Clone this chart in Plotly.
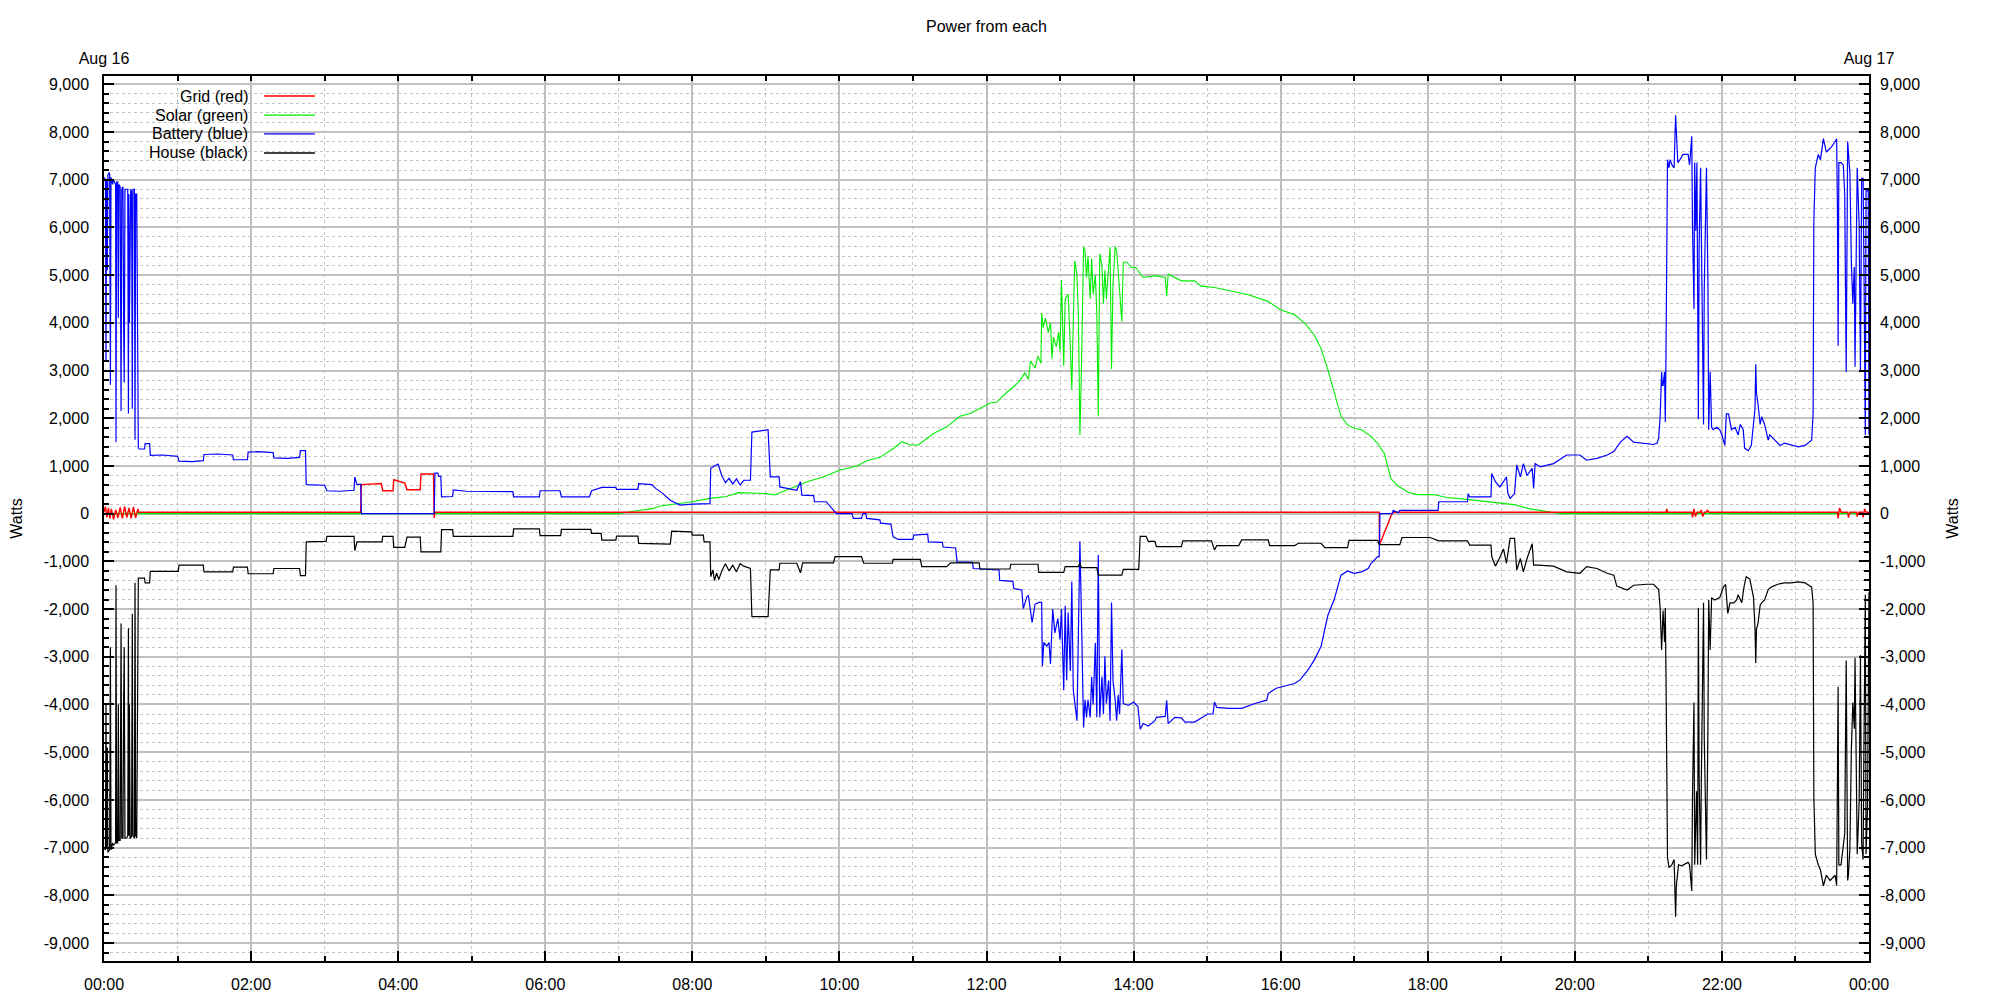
import pandas as pd
import plotly.graph_objects as go

DAY = "2023-08-16"
TITLE = "Power from each"
SERIES_NAMES = ["Grid (red)", "Solar (green)", "Battery (blue)", "House (black)"]
SERIES_COLORS = ["#ff0000", "#00ee00", "#0000ff", "#000000"]
SERIES_WIDTHS = [1.4, 1.1, 1.2, 1.2]
DRAW_ORDER = [1, 0, 2, 3]
Y_TICKS = list(range(-9000, 9001, 1000))
Y_LABELS = [f"{v:,}" for v in Y_TICKS]
TOP_LABELS = ["Aug 16", "Aug 17"]

# ---- Grid (red): hours since midnight, watts
grid_h = [0.0, 0.02, 0.04, 0.06, 0.08, 0.10, 0.13, 0.16, 0.19, 0.22, 0.25, 0.28, 0.31, 0.34,
          0.37, 0.40, 0.43, 0.46, 0.47, 3.49, 3.50, 3.77, 3.79, 3.93, 3.94, 4.09, 4.12, 4.30,
          4.31, 4.48, 4.49, 4.50, 17.34, 17.345, 17.52, 21.24, 21.25, 21.26, 21.59, 21.60,
          21.62, 21.64, 21.66, 21.71, 21.72, 21.74, 21.76, 21.79, 21.80, 21.82, 23.57, 23.58,
          23.60, 23.62, 23.71, 23.72, 23.74, 23.83, 23.84, 23.86, 23.91, 23.92, 23.94, 23.96,
          24.0]
grid_w = [30, 150, -80, 120, -100, 100, -120, 80, -90, 130, -100, 150, -80, 120,
          -100, 140, -90, 100, 30, 30, 610, 630, 480, 480, 710, 640, 500, 500,
          830, 830, -90, 30, 30, -650, 30, 30, 100, 30, 30, -80,
          100, -60, 30, 30, 80, -60, 30, 30, 80, 30, 30, -100,
          120, 30, 30, -80, 30, 30, -60, 30, 30, -80, 100, 30,
          30]

# ---- Solar (green)
solar_h = [0.0, 7.0, 7.2, 7.47, 7.56, 7.79, 8.0, 8.24, 8.46, 8.63, 9.01, 9.12, 9.33, 9.56,
           9.78, 10.0, 10.24, 10.37, 10.55, 10.73, 10.85, 10.96, 11.07, 11.28, 11.46, 11.64,
           11.78, 11.91, 12.05, 12.14, 12.28, 12.37, 12.46, 12.52, 12.57, 12.60, 12.66, 12.70,
           12.74, 12.75, 12.77, 12.80, 12.84, 12.87, 12.89, 12.91, 12.95, 12.98, 13.00, 13.02,
           13.05, 13.07, 13.11, 13.14, 13.16, 13.18, 13.20, 13.23, 13.25, 13.27, 13.29, 13.32,
           13.34, 13.36, 13.38, 13.41, 13.43, 13.45, 13.48, 13.50, 13.52, 13.54, 13.57, 13.59,
           13.61, 13.63, 13.66, 13.68, 13.70, 13.72, 13.75, 13.77, 13.79, 13.84, 13.86, 13.91,
           13.97, 14.03, 14.13, 14.29, 14.43, 14.45, 14.47, 14.65, 14.83, 14.92, 15.10, 15.29,
           15.56, 15.83, 15.99, 16.19, 16.33, 16.46, 16.55, 16.64, 16.73, 16.82, 16.91, 17.0,
           17.10, 17.23, 17.32, 17.41, 17.50, 17.59, 17.73, 17.86, 18.08, 18.26, 18.53, 18.85,
           19.17, 19.39, 19.62, 19.80, 24.0]
solar_w = [0, 0, 50, 110, 160, 200, 250, 320, 360, 440, 420, 390, 530, 670,
           770, 910, 1000, 1110, 1180, 1360, 1510, 1440, 1440, 1680, 1820, 2040,
           2100, 2200, 2320, 2340, 2550, 2660, 2800, 2950, 2820, 3200, 3050, 3300,
           3150, 4200, 3900, 4100, 3800, 4000, 3250, 3700, 3500, 3800, 3400, 4900,
           3100, 4500, 4600, 3500, 2600, 4000, 5300, 5000, 4100, 1650, 2960, 5590,
           5500, 4950, 5400, 4500, 5350, 4600, 5000, 4200, 2040, 5450, 5200, 4400,
           5100, 4500, 5300, 5590, 3030, 4800, 5600, 5500, 5100, 4030, 5270, 5270,
           5160, 5160, 4950, 4990, 4950, 4560, 5020, 4880, 4880, 4770, 4740, 4680,
           4590, 4450, 4280, 4170, 3990, 3740, 3460, 3030, 2540, 2040, 1860, 1790,
           1760, 1620, 1470, 1260, 730, 590, 450, 400, 400, 340, 300, 250,
           190, 100, 50, 0, 0]

# ---- Battery (blue)
battery_h = [0.000, 0.020, 0.027, 0.035, 0.045, 0.053, 0.072, 0.077, 0.087, 0.095, 0.117, 0.127,
             0.158, 0.163, 0.172, 0.187, 0.195, 0.203, 0.220, 0.232, 0.242, 0.258, 0.267, 0.275,
             0.285, 0.308, 0.323, 0.332, 0.338, 0.345, 0.355, 0.363, 0.375, 0.385, 0.393, 0.413,
             0.422, 0.430, 0.445, 0.453, 0.460, 0.467,
             0.48, 0.55, 0.56, 0.62, 0.63, 0.80, 1.0, 1.02, 1.2, 1.35, 1.36, 1.55, 1.75, 1.76,
             1.95, 1.96, 2.1, 2.3, 2.31, 2.5, 2.66, 2.67, 2.74, 2.75, 3.0, 3.03, 3.2, 3.40, 3.41,
             3.44, 3.49, 3.50, 4.49, 4.50, 4.54, 4.55, 4.58, 4.59, 4.74, 4.75, 4.93, 5.3, 5.56,
             5.57, 5.92, 5.93, 6.2, 6.22, 6.6, 6.63, 6.77, 6.96, 6.97, 7.26, 7.27, 7.45, 7.5,
             7.6, 7.7, 7.83, 8.0, 8.24, 8.25, 8.3, 8.35, 8.40, 8.45, 8.5, 8.55, 8.6, 8.65, 8.7,
             8.79, 8.81, 8.9, 9.03, 9.06, 9.18, 9.19, 9.42, 9.47, 9.49, 9.65, 9.66, 9.82, 9.9,
             9.96, 10.17, 10.19, 10.30, 10.32, 10.36, 10.37, 10.55, 10.56, 10.7, 10.73, 10.8,
             11.0, 11.01, 11.2, 11.21, 11.40, 11.41, 11.58, 11.6, 11.81, 11.82, 12.0, 12.17,
             12.18, 12.36, 12.37, 12.48, 12.5, 12.55, 12.57,
             12.59, 12.62, 12.66, 12.71, 12.75, 12.76, 12.78, 12.82, 12.85, 12.87, 12.90, 12.93,
             12.97, 13.00, 13.02, 13.05, 13.07, 13.09, 13.11, 13.14, 13.16, 13.18, 13.23, 13.25,
             13.27, 13.29, 13.32, 13.34, 13.36, 13.38, 13.41, 13.43, 13.45, 13.48, 13.50, 13.52,
             13.54, 13.57, 13.59, 13.61, 13.63, 13.66, 13.68, 13.70, 13.72, 13.75, 13.77, 13.79,
             13.81, 13.84, 13.86, 13.93, 14.00, 14.06, 14.09, 14.13, 14.20, 14.29, 14.31, 14.43,
             14.45, 14.47, 14.56, 14.65, 14.70, 14.83, 14.92, 15.01, 15.08, 15.10, 15.13, 15.29,
             15.47, 15.65, 15.81, 15.83, 15.94, 16.10, 16.19, 16.26, 16.37, 16.46, 16.55, 16.64,
             16.73, 16.82, 16.91, 17.00, 17.10, 17.19, 17.23, 17.32, 17.34, 17.35,
             17.52, 17.53, 17.60, 17.62, 17.9, 18.14, 18.15, 18.54, 18.55, 18.57, 18.86, 18.87,
             18.92, 18.98, 19.03, 19.07, 19.09, 19.12, 19.18, 19.21, 19.26, 19.30, 19.35, 19.42,
             19.44, 19.46, 19.53, 19.71, 19.89, 20.07, 20.16, 20.30, 20.44, 20.53, 20.62, 20.71,
             20.80, 20.98, 21.07, 21.12,
             21.14, 21.16, 21.18, 21.19, 21.20, 21.22, 21.23, 21.24, 21.25, 21.26, 21.28, 21.295,
             21.32, 21.35, 21.37, 21.38, 21.40, 21.43, 21.47, 21.54, 21.56, 21.59, 21.60, 21.62,
             21.63, 21.645, 21.66, 21.68, 21.69, 21.71, 21.72, 21.75, 21.76, 21.78, 21.79, 21.81,
             21.82, 21.84, 21.86, 21.88, 21.93, 21.97, 22.00, 22.04, 22.06, 22.09, 22.13, 22.18,
             22.22, 22.25, 22.29, 22.31, 22.36, 22.40, 22.43, 22.45, 22.46, 22.47, 22.49, 22.52,
             22.54, 22.58, 22.63, 22.65, 22.72, 22.79, 22.85, 22.95, 23.04, 23.13, 23.22, 23.24,
             23.25, 23.27, 23.31, 23.34, 23.38, 23.42, 23.49, 23.54, 23.56, 23.57, 23.58, 23.59,
             23.62, 23.65, 23.67, 23.69, 23.71, 23.72, 23.74, 23.76, 23.78, 23.80, 23.81, 23.83,
             23.84, 23.866, 23.884, 23.90, 23.92, 23.93, 23.95, 23.96, 23.98, 23.99, 24.0]
battery_w = [7050, 7000, 3200, 7000, 5100, 7100, 7150, 7100, 2700, 7050, 6900, 7000,
             6900, 1500, 6950, 6950, 4100, 6900, 6850, 2150, 6800, 6850, 4000, 2750,
             6800, 6800, 6800, 2100, 6700, 4000, 6800, 6800, 6750, 2200, 6800, 6800,
             1550, 6700, 6700, 4000, 1550, 1380,
             1355, 1355, 1470, 1470, 1220, 1230, 1200, 1100, 1090, 1110, 1240, 1250, 1230, 1130,
             1130, 1290, 1300, 1280, 1170, 1160, 1180, 1320, 1320, 610, 595, 480, 470, 490, 770,
             610, 620, 0, 0, 850, 850, 780, 780, 350, 360, 500, 470, 470, 460,
             350, 350, 480, 480, 350, 350, 480, 550, 550, 510, 510, 630, 610, 530,
             420, 280, 180, 200, 210, 950, 1000, 1040, 800, 650, 740, 620, 730, 600, 700,
             700, 1710, 1730, 1760, 770, 770, 560, 490, 670, 390, 380, 250, 250, 100,
             0, 0, -100, -100, 0, 0, -100, -130, -200, -220, -485, -540,
             -540, -450, -430, -590, -600, -700, -720, -1010, -1020, -1150, -1160, -1180,
             -1400, -1420, -1570, -1600, -1990, -1740, -1720,
             -2000, -2280, -1900, -1860, -1860, -3200, -2700, -2780, -2700, -3150, -2000, -2500,
             -2200, -2640, -2000, -3700, -1930, -3490, -2070, -3300, -1430, -3700, -4340, -2500,
             -580, -2070, -4480, -3900, -4270, -3900, -4270, -3420, -4000, -2710, -4270, -865,
             -4270, -3420, -4200, -2990, -3980, -3500, -4340, -1860, -3500, -3910, -4340, -3800,
             -4200, -2850, -3980, -4020, -3950, -4050, -4520, -4400, -4450, -4340, -4270, -4250,
             -3910, -4400, -4270, -4280, -4370, -4370, -4290, -4200, -4200, -3950, -4060, -4080,
             -4080, -3980, -3910, -3770, -3660, -3590, -3560, -3490, -3280, -3060, -2780, -2140,
             -1790, -1290, -1200, -1250, -1220, -1150, -1040, -900, -900, 0,
             0, 70, 20, 70, 70, 70, 250, 250, 420, 350, 350, 840,
             670, 560, 670, 770, 420, 320, 420, 1020, 770, 1050, 800, 950,
             530, 1050, 980, 1050, 1230, 1230, 1120, 1160, 1230, 1300, 1500, 1620,
             1500, 1470, 1450, 1480,
             1590, 2030, 2970, 2690, 2690, 2970, 1920, 3400, 6150, 7420, 7250, 7420,
             7310, 7250, 8350, 7970, 7360, 7420, 7530, 7530, 7310, 7910, 6040, 4290,
             7360, 5930, 7360, 1980, 5600, 7250, 5710, 1870, 4730, 6040, 7250, 4840,
             1760, 2970, 1810, 1760, 1810, 1760, 1650, 1430, 2090, 2090, 1760, 1810,
             1650, 1870, 1760, 1370, 1320, 1430, 1870, 2200, 3130, 2530, 2310, 1870,
             2030, 1870, 1540, 1650, 1540, 1430, 1480, 1430, 1400, 1430, 1540, 2090,
             6150, 7250, 7530, 7420, 7860, 7580, 7690, 7800, 7860, 6480, 3520, 7360,
             7360, 7310, 6700, 2970, 7800, 7580, 7140, 5280, 4400, 5170, 3080, 6000,
             7250, 6040, 2970, 7030, 7030, 5390, 1650, 6810, 6760, 6800, 1650]

# ---- House (black)
house_h = [0.000, 0.020, 0.027, 0.035, 0.045, 0.053, 0.072, 0.077, 0.087, 0.095, 0.117, 0.127,
           0.158, 0.163, 0.172, 0.187, 0.195, 0.203, 0.220, 0.232, 0.242, 0.258, 0.267, 0.275,
           0.285, 0.308, 0.323, 0.332, 0.338, 0.345, 0.355, 0.363, 0.375, 0.385, 0.393, 0.413,
           0.422, 0.430, 0.445, 0.453, 0.460, 0.467,
           0.55, 0.56, 0.62, 0.63, 1.01, 1.02, 1.35, 1.36, 1.75, 1.76, 1.95, 1.96, 2.30, 2.31,
           2.66, 2.67, 2.74, 2.75, 3.02, 3.03, 3.40, 3.41, 3.44, 3.78, 3.79, 3.93, 3.94, 4.09,
           4.12, 4.30, 4.31, 4.58, 4.59, 4.74, 4.75, 5.56, 5.57, 5.92, 5.93, 6.21, 6.22, 6.62,
           6.63, 6.76, 6.77, 6.96, 6.97, 7.26, 7.27, 7.70, 7.72, 7.99, 8.0, 8.15, 8.16, 8.24,
           8.25, 8.28, 8.30, 8.33, 8.36, 8.40, 8.45, 8.5, 8.55, 8.6, 8.65, 8.7, 8.79, 8.81,
           9.03, 9.06, 9.18, 9.19, 9.42, 9.47, 9.50, 9.92, 9.94, 10.30, 10.33, 10.72, 10.73,
           11.10, 11.12, 11.46, 11.51, 11.90, 11.91, 12.32, 12.33, 12.70, 12.71, 13.05, 13.07,
           13.25, 13.27, 13.29, 13.50, 13.52, 13.84, 13.86, 14.07, 14.09, 14.17, 14.20, 14.29,
           14.31, 14.65, 14.67, 15.06, 15.10, 15.13, 15.43, 15.47, 15.83, 15.85, 16.19, 16.24,
           16.55, 16.60, 16.91, 16.93, 17.32, 17.34, 17.62, 17.65, 18.03, 18.15, 18.54, 18.57,
           18.86, 18.87, 18.92, 18.98, 19.03, 19.07, 19.12, 19.18, 19.21, 19.26, 19.30, 19.35,
           19.42, 19.44, 19.50, 19.71, 19.89, 20.07, 20.16, 20.30, 20.44, 20.53, 20.57, 20.71,
           20.80, 20.98, 21.07,
           21.14, 21.16, 21.18, 21.20, 21.22, 21.23, 21.24, 21.25, 21.26, 21.28, 21.32, 21.35,
           21.37, 21.38, 21.41, 21.45, 21.54, 21.56, 21.59, 21.60, 21.62, 21.63, 21.655, 21.67,
           21.68, 21.69, 21.71, 21.72, 21.75, 21.76, 21.78, 21.79, 21.81, 21.82, 21.84, 21.86,
           21.90, 21.97, 22.02, 22.05, 22.08, 22.11, 22.16, 22.20, 22.22, 22.27, 22.30, 22.33,
           22.38, 22.43, 22.45, 22.46, 22.47, 22.49, 22.52, 22.54, 22.58, 22.63, 22.67, 22.76,
           22.85, 22.94, 23.04, 23.13, 23.22, 23.24, 23.25, 23.27, 23.31, 23.34, 23.38, 23.42,
           23.47, 23.54, 23.56, 23.57, 23.58, 23.59, 23.62, 23.67, 23.69, 23.71, 23.72, 23.74,
           23.76, 23.78, 23.80, 23.81, 23.83, 23.84, 23.866, 23.884, 23.90, 23.92, 23.93, 23.95,
           23.96, 23.98, 24.0]
house_w = [-7000, -7050, -4000, -7000, -4900, -7100, -7050, -7000, -2800, -7050, -6900, -6950,
           -6900, -1500, -6900, -6900, -4000, -6850, -6850, -2300, -6800, -6800, -4000, -2800,
           -6800, -6800, -6750, -2400, -6750, -4000, -6800, -6800, -6750, -2100, -6750, -6800,
           -1450, -6750, -6800, -4000, -1350, -1350,
           -1350, -1450, -1450, -1210, -1210, -1080, -1080, -1220, -1220, -1120, -1120, -1260, -1260, -1150,
           -1150, -1300, -1300, -590, -580, -475, -475, -775, -590, -590, -475, -475, -705, -705,
           -490, -490, -800, -800, -335, -335, -475, -475, -320, -320, -460, -460, -330, -330,
           -415, -415, -555, -555, -470, -470, -625, -640, -365, -380, -450, -450, -590, -590,
           -1320, -1180, -1400, -1250, -1380, -1200, -1050, -1200, -1080, -1220, -1050, -1100, -1150, -2160,
           -2160, -1180, -1180, -1040, -1040, -1240, -1030, -1030, -900, -900, -1040, -1040, -960,
           -960, -1110, -1110, -1030, -1030, -1160, -1160, -1060, -1060, -1230, -1230, -1110,
           -1110, -1040, -1130, -1130, -1290, -1290, -1170, -1170, -475, -475, -580, -580,
           -690, -690, -570, -570, -760, -670, -670, -550, -550, -670, -670, -620,
           -620, -710, -710, -560, -560, -650, -650, -500, -500, -570, -570, -660,
           -660, -900, -1100, -920, -740, -1040, -520, -520, -1180, -940, -1220, -940,
           -630, -1080, -1080, -1100, -1220, -1250, -1110, -1150, -1250, -1290, -1520, -1600,
           -1500, -1480, -1480,
           -1590, -1980, -2860, -2030, -2690, -1980, -3410, -6150, -7200, -7420, -7360, -7250,
           -8450, -7800, -7360, -7380, -7310, -7360, -7910, -5930, -3960, -7360, -5820, -7360,
           -1980, -5490, -7360, -5600, -1870, -4730, -6150, -7250, -4510, -1810, -2860, -1760,
           -1810, -1760, -1540, -1480, -2090, -1870, -1870, -1810, -1700, -1870, -1540, -1320,
           -1370, -1760, -2420, -3130, -2420, -2310, -1920, -1870, -1810, -1590, -1540, -1480,
           -1450, -1450, -1430, -1450, -1540, -1870, -5930, -7140, -7360, -7470, -7800, -7580,
           -7690, -7580, -7800, -6380, -3630, -7360, -7360, -6700, -3080, -7690, -7580, -7030,
           -4950, -3960, -4510, -3020, -5170, -7140, -6040, -2970, -6920, -7250, -5060, -1700,
           -7140, -6150, -1650]

BASE = pd.Timestamp(DAY)
END = BASE + pd.Timedelta(days=1)


def to_time(hours):
    return [BASE + pd.Timedelta(hours=h) for h in hours]


SERIES_H = [grid_h, solar_h, battery_h, house_h]
SERIES_W = [grid_w, solar_w, battery_w, house_w]

fig = go.Figure()
for i in DRAW_ORDER:
    fig.add_trace(go.Scatter(x=to_time(SERIES_H[i]), y=SERIES_W[i], mode="lines",
                             name=SERIES_NAMES[i],
                             line=dict(color=SERIES_COLORS[i], width=SERIES_WIDTHS[i]),
                             showlegend=False))

# helper trace so that the mirrored top/right axes are drawn
fig.add_trace(go.Scatter(x=[BASE, END], y=[None, None], xaxis="x2", yaxis="y2",
                         mode="lines", showlegend=False, hoverinfo="skip"))

FONT = "Liberation Sans, Arial, sans-serif"
GRID_MAJOR = "#c0c0c0"
GRID_MINOR = "#c4c4c4"
YRANGE = [-9377, 9174]

hour_ticks = [BASE + pd.Timedelta(hours=k) for k in range(25)]
hour_text = [TOP_LABELS[0]] + [""] * 23 + [TOP_LABELS[1]]

# the page body adds an 8 px offset, so the figure is 1992x992
fig.update_layout(
    width=1992, height=992, autosize=False,
    paper_bgcolor="white", plot_bgcolor="white",
    margin=dict(l=96, r=131, t=68, b=39, pad=0),
    font=dict(family=FONT, size=16, color="black"),
    title=dict(text=TITLE, x=0.5, xref="paper", xanchor="center",
               y=0.981, yref="container", yanchor="middle",
               font=dict(family=FONT, size=16, color="black")),
    showlegend=False,
    xaxis=dict(type="date", range=[BASE, END], tickformat="%H:%M",
               tick0=BASE, dtick=2 * 3600 * 1000, automargin=False,
               ticks="inside", ticklen=10, tickwidth=1.5, tickcolor="black",
               showgrid=True, gridcolor=GRID_MAJOR, gridwidth=2,
               minor=dict(tick0=BASE, dtick=3600 * 1000, ticks="inside", ticklen=5,
                          tickwidth=1.5, tickcolor="black", showgrid=True,
                          gridcolor=GRID_MINOR, gridwidth=1, griddash="3px,3px"),
               showline=True, linecolor="black", linewidth=1.5, mirror=True,
               zeroline=False, ticklabelstandoff=8,
               tickfont=dict(family=FONT, size=16, color="black")),
    xaxis2=dict(type="date", overlaying="x", side="top", range=[BASE, END],
                tickmode="array", tickvals=hour_ticks, ticktext=hour_text, automargin=False,
                ticks="inside", ticklen=5, tickwidth=1.5, tickcolor="black",
                showgrid=False, zeroline=False, showline=False, ticklabelstandoff=8,
                tickfont=dict(family=FONT, size=16, color="black")),
    yaxis=dict(range=YRANGE, tickmode="array", tickvals=Y_TICKS, ticktext=Y_LABELS,
               automargin=False,
               ticks="inside", ticklen=10, tickwidth=1.5, tickcolor="black",
               showgrid=True, gridcolor=GRID_MAJOR, gridwidth=2,
               minor=dict(tickmode="linear", tick0=0, dtick=200, ticks="inside", ticklen=5,
                          tickwidth=1.5, tickcolor="black", showgrid=True,
                          gridcolor=GRID_MINOR, gridwidth=1, griddash="3px,3px"),
               showline=True, linecolor="black", linewidth=1.5, mirror=True,
               zeroline=False, ticklabelstandoff=10,
               title=dict(text="Watts", standoff=22, font=dict(family=FONT, size=16)),
               tickfont=dict(family=FONT, size=16, color="black")),
    yaxis2=dict(overlaying="y", side="right", range=YRANGE, automargin=False,
                tickmode="array", tickvals=Y_TICKS, ticktext=Y_LABELS,
                ticks="inside", ticklen=10, tickwidth=1.5, tickcolor="black",
                minor=dict(tickmode="linear", tick0=0, dtick=200, ticks="inside", ticklen=5,
                           tickwidth=1.5, tickcolor="black", showgrid=False),
                showgrid=False, zeroline=False, showline=False, ticklabelstandoff=10,
                title=dict(text="Watts", standoff=22, font=dict(family=FONT, size=16)),
                tickfont=dict(family=FONT, size=16, color="black")),
)

# legend box (opaque, covers grid) with right-aligned labels and line samples
fig.add_shape(type="rect", xref="paper", yref="paper", x0=0, x1=0.124, y0=0.903, y1=0.9876,
              fillcolor="white", line=dict(width=0), layer="between")
LEG_Y = [0.9774, 0.9559, 0.9345, 0.9130]
for name, color, ly in zip(SERIES_NAMES, SERIES_COLORS, LEG_Y):
    fig.add_annotation(xref="paper", yref="paper", x=0.0827, y=ly, text=name,
                       showarrow=False, xanchor="right", yanchor="middle",
                       font=dict(family=FONT, size=16, color="black"))
    fig.add_shape(type="line", xref="paper", yref="paper", x0=0.0907, x1=0.1195,
                  y0=ly, y1=ly, line=dict(color=color, width=1.3))

fig.write_html("out.html")
